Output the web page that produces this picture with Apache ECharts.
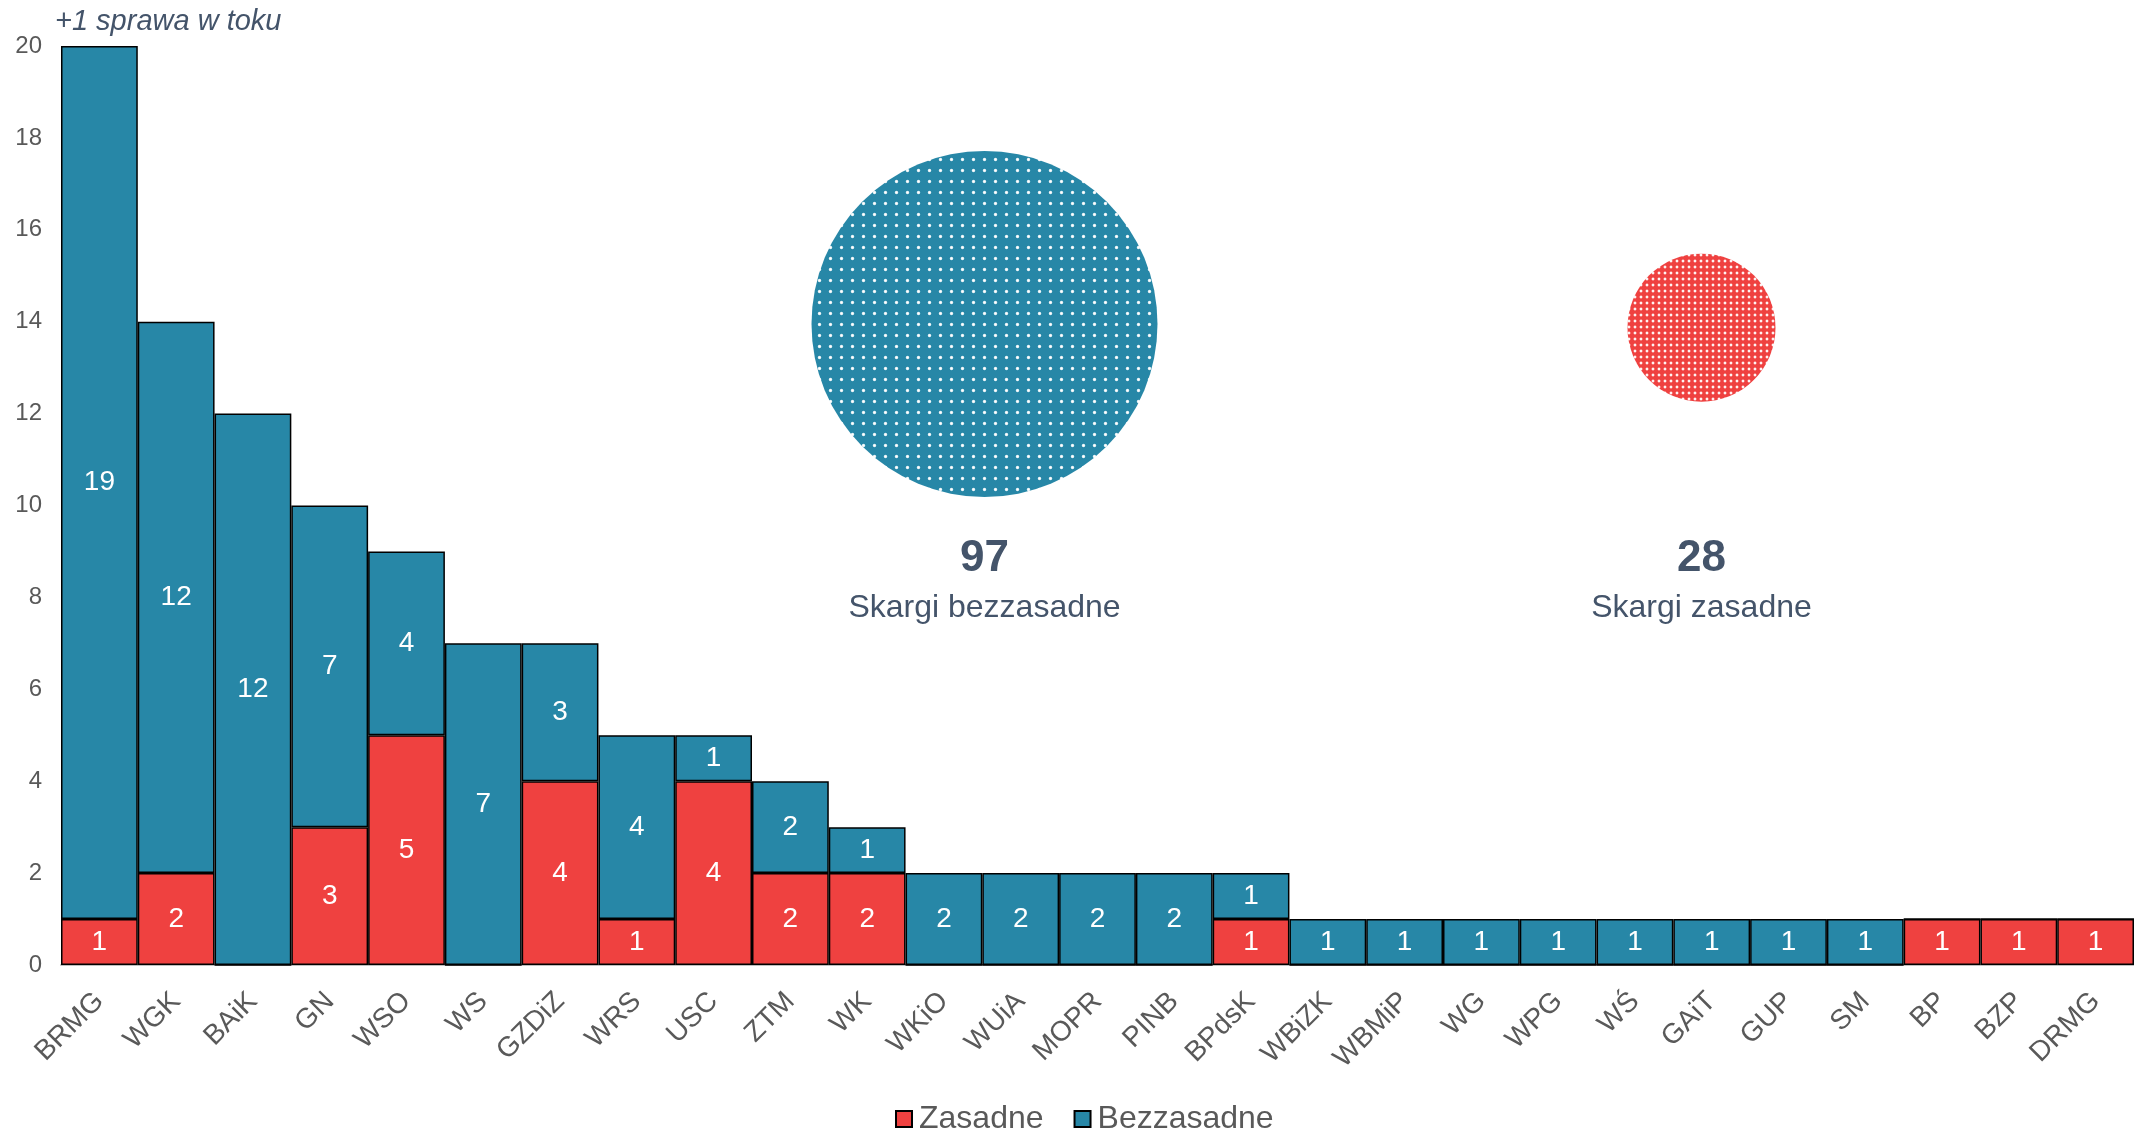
<!DOCTYPE html>
<html>
<head>
<meta charset="utf-8">
<script src="https://cdn.jsdelivr.net/npm/echarts@6/dist/echarts.min.js"></script>
<style>
html,body{margin:0;padding:0;background:#fff;}
#chart{width:2134px;height:1129px;}
</style>
</head>
<body>
<div id="chart"></div>
<script>
// ---- data ----
const categories = ['BRMG','WGK','BAiK','GN','WSO','WS','GZDiZ','WRS','USC','ZTM','WK','WKiO','WUiA','MOPR','PINB','BPdsK','WBiZK','WBMiP','WG','WPG','WŚ','GAiT','GUP','SM','BP','BZP','DRMG'];
const zasadne =    [1, 2, 0, 3, 5, 0, 4, 1, 4, 2, 2, 0, 0, 0, 0, 1, 0, 0, 0, 0, 0, 0, 0, 0, 1, 1, 1];
const bezzasadne = [19,12,12, 7, 4, 7, 3, 4, 1, 2, 1, 2, 2, 2, 2, 1, 1, 1, 1, 1, 1, 1, 1, 1, 0, 0, 0];
const yTicks = [0, 2, 4, 6, 8, 10, 12, 14, 16, 18, 20];
const summaryNames = ['Skargi bezzasadne', 'Skargi zasadne'];
const summaryTotals = [97, 28];
const note = '+1 sprawa w toku';

// ---- styles / layout ----
const RED = '#EF4140', TEAL = '#2787A7', NAVY = '#44546A', GRAY = '#595959';
const FONT = "'Liberation Sans', Arial, sans-serif";
const circleRadii = [173, 74];
const circleY = [13.95, 13.87];
const LABEL_Y = 8.3;

function dotPattern(bg, spacing, radius) {
  const c = document.createElement('canvas');
  c.width = spacing; c.height = spacing;
  const ctx = c.getContext('2d');
  ctx.fillStyle = bg;
  ctx.fillRect(0, 0, spacing, spacing);
  const cx = spacing / 2, cy = spacing / 2;
  const g = ctx.createRadialGradient(cx, cy, 0, cx, cy, radius);
  g.addColorStop(0, 'rgba(255,255,255,1)');
  g.addColorStop(0.55, 'rgba(255,255,255,0.9)');
  g.addColorStop(1, 'rgba(255,255,255,0)');
  ctx.fillStyle = g;
  ctx.beginPath(); ctx.arc(cx, cy, radius, 0, Math.PI * 2); ctx.fill();
  return c;
}
const circleFills = [
  {image: dotPattern(TEAL, 11, 2.2), repeat: 'repeat'},
  {image: dotPattern(RED, 6, 1.9), repeat: 'repeat'}
];

const chart = echarts.init(document.getElementById('chart'), null, {renderer:'canvas'});

const segLabel = {
  show: true, position: 'inside', color: '#fff', fontSize: 28, fontFamily: FONT,
  formatter: p => (p.value ? String(p.value) : '')
};

const option = {
  animation: false,
  backgroundColor: '#fff',
  textStyle: {fontFamily: FONT},
  grid: [
    {left: 61, right: 0, top: 46, bottom: 164, containLabel: false},
    {left: 626, right: 2134 - 2060, top: 46, bottom: 164, containLabel: false}
  ],
  xAxis: [
    {
      type: 'category', data: categories, gridIndex: 0,
      axisLine: {show: true, lineStyle: {color: '#BFBFBF', width: 2}},
      axisTick: {show: false},
      axisLabel: {rotate: 45, fontSize: 28, color: GRAY, fontFamily: FONT, margin: 32, interval: 0}
    },
    {type: 'category', data: summaryNames, gridIndex: 1, show: false}
  ],
  yAxis: [
    {
      type: 'value', gridIndex: 0, min: yTicks[0], max: yTicks[yTicks.length - 1], interval: 2,
      axisLine: {show: false}, axisTick: {show: false}, splitLine: {show: false},
      axisLabel: {fontSize: 24, color: GRAY, fontFamily: FONT, margin: 19}
    },
    {type: 'value', gridIndex: 1, min: 0, max: 20, show: false}
  ],
  legend: {
    data: ['Zasadne', 'Bezzasadne'],
    left: 890, top: 1098,
    itemWidth: 16, itemHeight: 16, itemGap: 30,
    icon: 'rect',
    textStyle: {fontSize: 32, color: GRAY, fontFamily: FONT, padding: [0, 0, 0, 2]}
  },
  series: [
    {
      name: 'Zasadne', type: 'bar', stack: 'total', data: zasadne,
      xAxisIndex: 0, yAxisIndex: 0,
      barWidth: '100%', barCategoryGap: 0,
      itemStyle: {color: RED, borderColor: '#000', borderWidth: 1.5},
      label: segLabel
    },
    {
      name: 'Bezzasadne', type: 'bar', stack: 'total', data: bezzasadne,
      xAxisIndex: 0, yAxisIndex: 0,
      barWidth: '100%', barCategoryGap: 0,
      itemStyle: {color: TEAL, borderColor: '#000', borderWidth: 1.5},
      label: segLabel
    },
    {
      name: 'circles', type: 'custom', xAxisIndex: 1, yAxisIndex: 1,
      silent: true,
      data: summaryNames.map((n, i) => [i, circleY[i]]),
      renderItem: (params, api) => {
        const i = params.dataIndex;
        const pt = api.coord([api.value(0), api.value(1)]);
        return {
          type: 'circle',
          shape: {cx: pt[0], cy: pt[1], r: circleRadii[i]},
          style: {fill: circleFills[i]}
        };
      }
    },
    {
      name: 'totals', type: 'scatter', xAxisIndex: 1, yAxisIndex: 1,
      silent: true, symbolSize: 1,
      itemStyle: {color: 'rgba(255,255,255,0)', opacity: 1},
      data: summaryNames.map((n, i) => ({name: n, value: [n, LABEL_Y]})),
      label: {
        show: true, position: 'inside', opacity: 1,
        formatter: p => '{num|' + summaryTotals[p.dataIndex] + '}\n{txt|' + p.name + '}',
        rich: {
          num: {fontSize: 44, fontWeight: 'bold', color: NAVY, fontFamily: FONT, lineHeight: 50, align: 'center', opacity: 1},
          txt: {fontSize: 32, color: NAVY, fontFamily: FONT, lineHeight: 50, align: 'center', opacity: 1}
        }
      }
    }
  ],
  graphic: [
    {type: 'text', left: 55, top: 7, style: {text: note, fontSize: 29, fontStyle: 'italic', fill: NAVY, fontFamily: FONT}}
  ]
};
chart.setOption(option);
</script>
</body>
</html>
